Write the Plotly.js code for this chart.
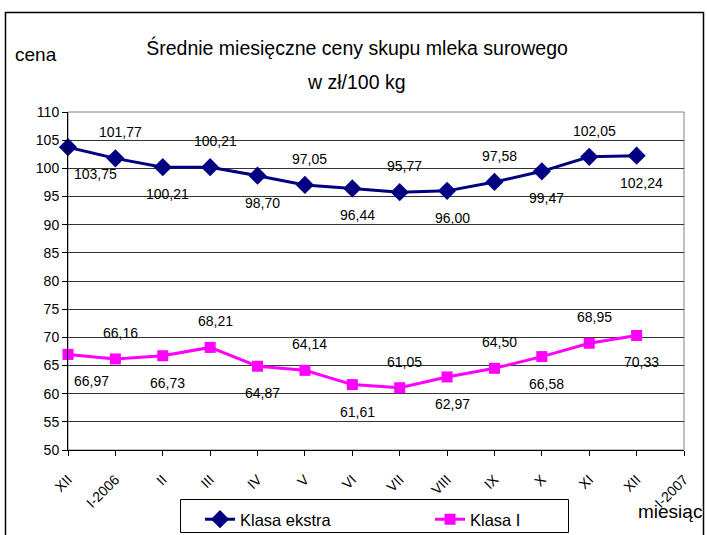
<!DOCTYPE html>
<html>
<head>
<meta charset="utf-8">
<script src="https://cdn.plot.ly/plotly-3.0.1.min.js"></script>
<style>
html,body{margin:0;padding:0;background:#fff;}
#chart{width:707px;height:535px;}
</style>
</head>
<body>
<div id="chart"></div>
<script>
// ---- data ----
const months = ['XII','I-2006','II','III','IV','V','VI','VII','VIII','IX','X','XI','XII','I-2007'];
const klasaEkstra = [103.75, 101.77, 100.21, 100.21, 98.70, 97.05, 96.44, 95.77, 96.00, 97.58, 99.47, 102.05, 102.24];
const klasaI = [66.97, 66.16, 66.73, 68.21, 64.87, 64.14, 61.61, 61.05, 62.97, 64.50, 66.58, 68.95, 70.33];
const seriesNames = ['Klasa ekstra', 'Klasa I'];

const FONT = "'Liberation Sans', Arial, sans-serif";
const idx = months.map((m, i) => i);

function fmt(v){ return v.toFixed(2).replace('.', ','); }

const traces = [
  {
    x: klasaEkstra.map((v, i) => i), y: klasaEkstra, name: seriesNames[0],
    type: 'scatter', mode: 'lines+markers',
    line: {color: '#000080', width: 3},
    marker: {symbol: 'diamond', size: 14, color: '#000080'},
    cliponaxis: false, hoverinfo: 'skip'
  },
  {
    x: klasaI.map((v, i) => i), y: klasaI, name: seriesNames[1],
    type: 'scatter', mode: 'lines+markers',
    line: {color: '#FF00FF', width: 3},
    marker: {symbol: 'square', size: 11, color: '#FF00FF'},
    cliponaxis: false, hoverinfo: 'skip'
  }
];

const annotations = [];
[klasaEkstra, klasaI].forEach(arr => {
  arr.forEach((v, i) => {
    const above = (i % 2 === 1);
    annotations.push({
      x: i, y: v, xref: 'x', yref: 'y', text: fmt(v), showarrow: false,
      xanchor: i === 0 ? 'left' : 'center', yanchor: 'middle',
      xshift: i === 0 ? 4 : 5, yshift: above ? 26 : -27,
      font: {family: FONT, size: 14, color: '#000'}
    });
  });
});
// second title line
annotations.push({
  xref: 'paper', yref: 'paper', x: 0.469, y: 1.089, text: 'w zł/100 kg', showarrow: false,
  xanchor: 'center', yanchor: 'middle', font: {family: FONT, size: 19.5, color: '#000'}
});
// axis captions
annotations.push({
  xref: 'paper', yref: 'paper', x: -0.0893, y: 1.169, text: 'cena', showarrow: false,
  xanchor: 'left', yanchor: 'middle', font: {family: FONT, size: 19, color: '#000'}
});
annotations.push({
  xref: 'paper', yref: 'paper', x: (704 - 68) / 616, y: -0.183, text: 'miesiąc', showarrow: false,
  xanchor: 'right', yanchor: 'middle', font: {family: FONT, size: 19, color: '#000'}
});

const layout = {
  width: 707, height: 535,
  margin: {l: 68, r: 23, t: 112, b: 85, autoexpand: false},
  paper_bgcolor: '#fff', plot_bgcolor: '#fff',
  showlegend: true,
  title: {
    text: 'Średnie miesięczne ceny skupu mleka surowego',
    xref: 'container', yref: 'container', x: 0.505, y: 1 - 48/535,
    xanchor: 'center', yanchor: 'middle',
    font: {family: FONT, size: 19.5, color: '#000'}
  },
  xaxis: {
    range: [0, 13], tickvals: idx, ticktext: months, tickangle: -45,
    ticks: 'outside', ticklen: 5, tickcolor: '#000', tickwidth: 1,
    showline: true, linecolor: '#000', linewidth: 1,
    showgrid: false, zeroline: false, fixedrange: true, automargin: false,
    ticklabelstandoff: 10,
    tickfont: {family: FONT, size: 14, color: '#000'}
  },
  yaxis: {
    range: [50, 110], dtick: 5, tick0: 50,
    ticks: 'outside', ticklen: 5, tickcolor: '#000', tickwidth: 1,
    showline: true, linecolor: '#000', linewidth: 1,
    showgrid: true, gridcolor: '#333', gridwidth: 1,
    zeroline: false, fixedrange: true, automargin: false,
    tickfont: {family: FONT, size: 14, color: '#000'}
  },
  legend: {
    orientation: 'h', x: (200 - 68) / 616, y: (450 - 502) / 338, xanchor: 'left', yanchor: 'top',
    bgcolor: 'rgba(0,0,0,0)', borderwidth: 0,
    entrywidth: 185, entrywidthmode: 'pixels',
    font: {family: FONT, size: 16.5, color: '#000'}
  },
  shapes: [
    {type: 'rect', xref: 'paper', yref: 'paper', x0: 0, x1: 1, y0: 0, y1: 1,
     line: {color: '#808080', width: 1}, fillcolor: 'rgba(0,0,0,0)', layer: 'below'},
    {type: 'rect', xref: 'paper', yref: 'paper',
     x0: (180.5 - 68) / 616, x1: (568.5 - 68) / 616, y0: (450 - 532.5) / 338, y1: (450 - 499.5) / 338,
     line: {color: '#000', width: 1}, fillcolor: 'rgba(0,0,0,0)'},
    {type: 'rect', xref: 'paper', yref: 'paper',
     x0: (5.5 - 68) / 616, x1: (703.5 - 68) / 616, y0: (450 - 545) / 338, y1: (450 - 12.5) / 338,
     line: {color: '#000', width: 1.5}, fillcolor: 'rgba(0,0,0,0)'}
  ],
  annotations: annotations
};

Plotly.newPlot('chart', traces, layout, {displayModeBar: false, staticPlot: true});
</script>
</body>
</html>
